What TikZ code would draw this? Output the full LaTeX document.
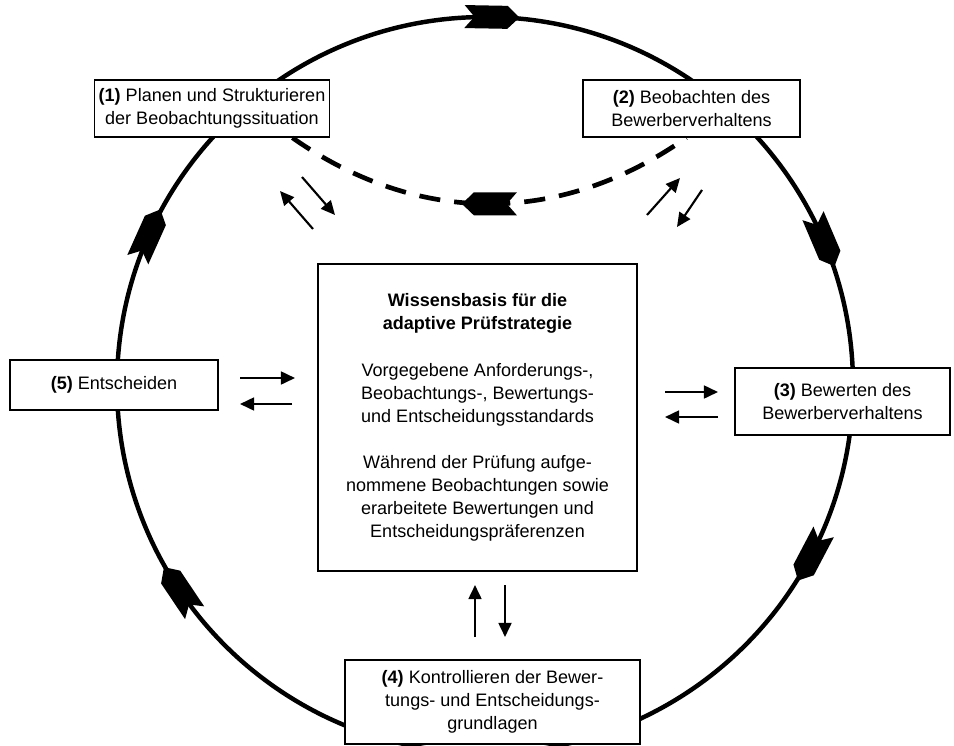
\documentclass[tikz,border=0pt]{standalone}
\usepackage{fontspec}
\setmainfont{Liberation Sans}
\usetikzlibrary{arrows.meta,decorations.markings}

\newcommand{\fahne}{\fill[solid] (2.75,1.15) -- (1.75,0) -- (2.75,-1.15) -- (-1.55,-1.15) -- (-2.75,0) -- (-1.55,1.15) -- cycle;}

\tikzset{
  kasten/.style={draw=black, line width=1.3pt, fill=white, align=center, inner sep=0pt,
    font=\fontsize{15.4}{19.6}\selectfont},
  pfeil/.style={-{Triangle[length=12pt,width=11pt]}, line width=1.8pt},
  kreislauf/.style={line width=3.8pt, postaction={decorate}},
  rueckweg/.style={line width=4pt, dash pattern=on 18pt off 12pt, postaction={decorate}}
}

\begin{document}
\begin{tikzpicture}[x=3mm,y=3mm]
  \useasboundingbox (0,0) rectangle (95.4,-74.5);
  % Kreislauf
  \draw [kreislauf, decoration={markings,
      mark=at position 0.064 with {\fahne},
      mark=at position 0.247 with {\fahne},
      mark=at position 0.433 with {\fahne},
      mark=at position 0.594 with {\fahne},
      mark=at position 0.923 with {\fahne}}] (48.5,-38.5) circle (36.8);
  % Schritte
  \node [kasten, minimum width=7.05cm, minimum height=1.71cm] (b1) at (21.2,-10.85)
    {\textbf{(1)} Planen und Strukturieren\\der Beobachtungssituation};
  \node [kasten, minimum width=6.51cm, minimum height=1.71cm] (b2) at (69.15,-10.85)
    {\textbf{(2)} Beobachten des\\Bewerberverhaltens};
  \node [kasten, minimum width=6.45cm, minimum height=2.01cm] (b3) at (84.25,-40.15)
    {\textbf{(3)} Bewerten des\\Bewerberverhaltens};
  \node [kasten, minimum width=8.85cm, minimum height=2.52cm] (b4) at (49.25,-70.2)
    {\textbf{(4)} Kontrollieren der Bewer-\\tungs- und Entscheidungs-\\grundlagen};
  \node [kasten, minimum width=6.24cm, minimum height=1.5cm] (b5) at (11.4,-38.5)
    {\textbf{(5)} Entscheiden};
  % Wissensbasis
  \node [kasten, minimum width=9.57cm, minimum height=9.2cm] (wb) at (47.75,-41.75)
    {\textbf{Wissensbasis für die}\\\textbf{adaptive Prüfstrategie}\\[20pt]
     Vorgegebene Anforderungs-,\\Beobachtungs-, Bewertungs-\\und Entscheidungsstandards\\[20pt]
     Während der Prüfung aufge-\\nommene Beobachtungen sowie\\erarbeitete Bewertungen und\\Entscheidungspräferenzen};
  % Rueckkopplung (2) -> (1)
  \draw [rueckweg, decoration={markings, mark=at position 0.5 with {\fahne}}]
    (b1.-20) to[out=-35,in=-145] (b2.-100);
  % Austausch mit der Wissensbasis
  \draw [pfeil] (31.3,-22.9) -- (28.0,-19.1);
  \draw [pfeil] (30.2,-17.7) -- (33.5,-21.5);
  \draw [pfeil] (64.7,-21.5) -- (68.0,-17.8);
  \draw [pfeil] (70.2,-19.0) -- (67.7,-22.7);
  \draw [pfeil] (24.0,-37.8) -- (29.5,-37.8);
  \draw [pfeil] (29.2,-40.4) -- (24.0,-40.4);
  \draw [pfeil] (66.5,-39.2) -- (71.8,-39.2);
  \draw [pfeil] (71.8,-41.7) -- (66.5,-41.7);
  \draw [pfeil] (47.5,-63.7) -- (47.5,-58.5);
  \draw [pfeil] (50.5,-58.5) -- (50.5,-63.7);
\end{tikzpicture}
\end{document}
